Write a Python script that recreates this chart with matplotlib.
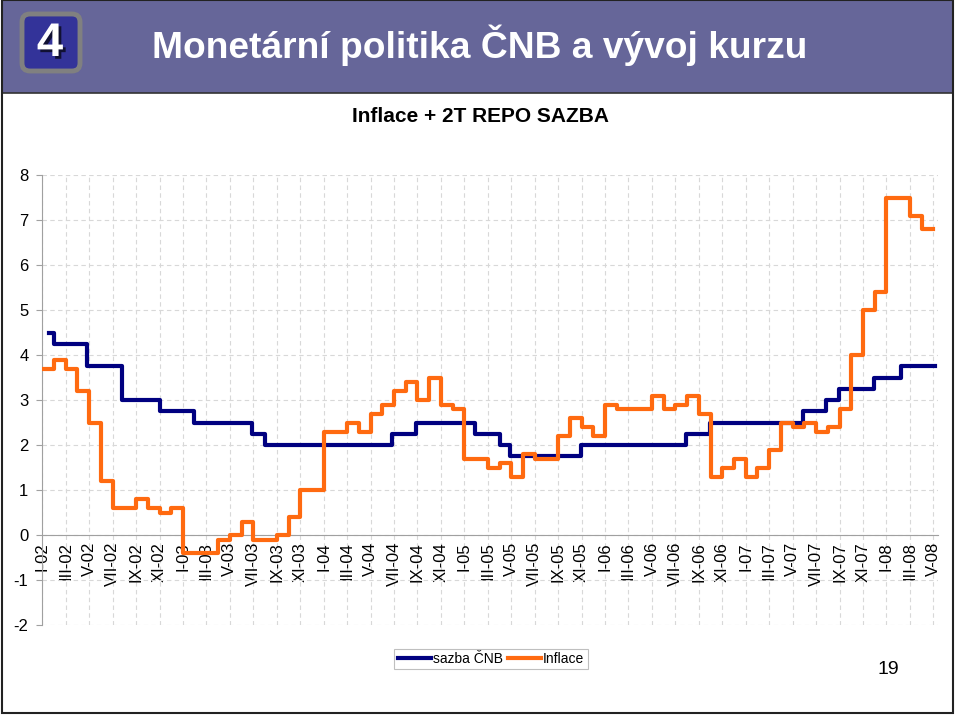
import matplotlib
matplotlib.use("Agg")
import matplotlib.pyplot as plt
import matplotlib.patheffects as pe
from matplotlib.patches import Rectangle, FancyBboxPatch
from matplotlib.transforms import IdentityTransform
import numpy as np
import pandas as pd

plt.rcParams['font.family'] = ['Liberation Sans', 'DejaVu Sans']
plt.rcParams['axes.unicode_minus'] = False

# monthly CPI inflation, I-02 .. IV-08
inflation = [3.7, 3.9, 3.7, 3.2, 2.5, 1.2, 0.6, 0.6, 0.8, 0.6, 0.5, 0.6,
             -0.4, -0.4, -0.4, -0.1, 0.0, 0.3, -0.1, -0.1, 0.0, 0.4, 1.0, 1.0,
             2.3, 2.3, 2.5, 2.3, 2.7, 2.9, 3.2, 3.4, 3.0, 3.5, 2.9, 2.8,
             1.7, 1.7, 1.5, 1.6, 1.3, 1.8, 1.7, 1.7, 2.2, 2.6, 2.4, 2.2,
             2.9, 2.8, 2.8, 2.8, 3.1, 2.8, 2.9, 3.1, 2.7, 1.3, 1.5, 1.7,
             1.3, 1.5, 1.9, 2.5, 2.4, 2.5, 2.3, 2.4, 2.8, 4.0, 5.0, 5.4,
             7.5, 7.5, 7.1, 6.8]

# 2T repo rate: date of change and new rate
repo_dates = ["2002-01-20", "2002-02-01", "2002-04-26", "2002-07-26", "2002-11-01",
              "2003-01-31", "2003-06-27", "2003-08-01", "2004-06-25", "2004-08-27",
              "2005-01-28", "2005-04-01", "2005-04-29", "2005-10-31", "2006-07-28",
              "2006-09-29", "2007-05-28", "2007-07-27", "2007-08-31", "2007-11-30",
              "2008-02-08", "2008-05-06"]
repo_rate = [4.5, 4.25, 3.75, 3.0, 2.75, 2.5, 2.25, 2.0, 2.25, 2.5, 2.25, 2.0, 1.75,
             2.0, 2.25, 2.5, 2.75, 3.0, 3.25, 3.5, 3.75]

roman = ["I", "III", "V", "VII", "IX", "XI"]
tick_labels = [f"{r}-{y:02d}" for y in range(2, 9) for r in roman][:39]


def month_index(d):
    d = pd.Timestamp(d)
    return (d.year - 2002) * 12 + d.month - 1 + (d.day - 1) / d.days_in_month


repo_x = np.array([month_index(d) for d in repo_dates])
infl_x = np.arange(len(inflation) + 1)

fig = plt.figure(figsize=(9.6, 7.18), dpi=100)
px = IdentityTransform()

# header band and frame
fig.patches.append(Rectangle((2, 625), 951, 93, transform=px, facecolor="#666699",
                             edgecolor="#333333", lw=1.2, zorder=0))
fig.patches.append(Rectangle((2, 5), 951, 713, transform=px, fill=False,
                             edgecolor="#222222", lw=1.5, zorder=5))
fig.patches.append(FancyBboxPatch((22, 647), 58, 57, transform=px,
                                  boxstyle="round,pad=0,rounding_size=8",
                                  facecolor="#333399", edgecolor="#808080", lw=3.5))
fig.text(50, 674, "4", transform=px, ha="center", va="center", color="white",
         fontsize=34, fontweight="bold",
         path_effects=[pe.withSimplePatchShadow(offset=(2, -2), shadow_rgbFace="#111133", alpha=1)])
fig.text(152, 673, "Monetární politika ČNB a vývoj kurzu", transform=px,
         ha="left", va="center", color="white", fontsize=26.7, fontweight="bold")
fig.text(480, 601, "Inflace + 2T REPO SAZBA", transform=px, ha="center",
         va="center", fontsize=15, fontweight="bold")
fig.text(888, 48, "19", transform=px, ha="center", va="center", fontsize=14)

ax = fig.add_axes([42.3 / 960, 1 - 625 / 718, (938 - 42.3) / 960, 450 / 718])
for s in ["top", "right"]:
    ax.spines[s].set_visible(False)
ax.spines["bottom"].set_position(("data", 0))
ax.spines["bottom"].set_color("#a0a0a0")
ax.spines["left"].set_color("#a0a0a0")

ax.step(repo_x, np.append(repo_rate, repo_rate[-1]), where="post", color="#000080",
        lw=3, label="sazba ČNB", zorder=3)
ax.step(infl_x, np.append(inflation, inflation[-1]), where="post", color="#ff6a10",
        lw=3, label="Inflace", zorder=3)

ax.set_xlim(0, 76.4)
ax.set_ylim(-2, 8)
ax.set_yticks(range(-2, 9))
ax.set_xticks(np.arange(0, 77, 2))
ax.set_xticklabels(tick_labels)
ax.tick_params(axis="x", labelsize=12, length=0, pad=5, labelrotation=90)
for lbl in ax.get_xticklabels():
    lbl.set_va("top")
ax.tick_params(axis="y", labelsize=12, length=4, color="#a0a0a0", pad=6)
ax.grid(True, color="#d8d8d8", ls=(0, (4, 3)), lw=0.8)
ax.set_axisbelow(True)

leg = ax.legend(loc="center", bbox_to_anchor=(491, 59), bbox_transform=px, ncol=2,
                frameon=True, fancybox=False, edgecolor="#b0b0b0", fontsize=10,
                handlelength=2.4, handletextpad=0.1, columnspacing=0.4,
                borderpad=0.25, borderaxespad=0)
leg.get_frame().set_linewidth(0.8)

fig.savefig("out.png", dpi=100)
